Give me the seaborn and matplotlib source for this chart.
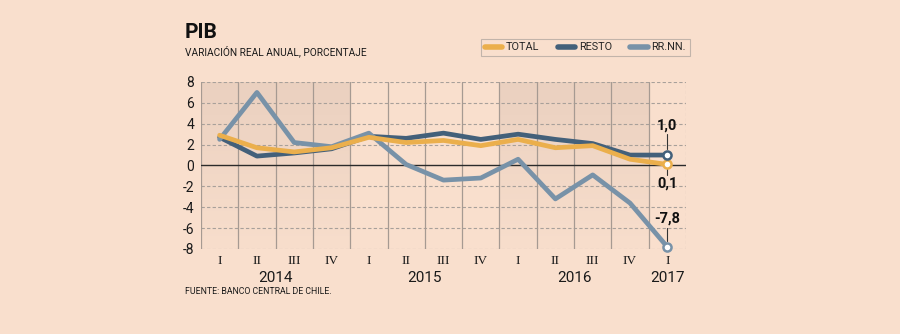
import numpy as np
import pandas as pd
import matplotlib
matplotlib.use("Agg")
import matplotlib.pyplot as plt
from matplotlib.lines import Line2D
import seaborn as sns

# Quarterly GDP growth, 2014-I .. 2017-I
quarters = ["I", "II", "III", "IV", "I", "II", "III", "IV", "I", "II", "III", "IV", "I"]
years = ["2014", "2015", "2016", "2017"]
year_centers = [1.5, 5.5, 9.5, 12]
total = [2.9, 1.7, 1.3, 1.7, 2.7, 2.2, 2.4, 1.9, 2.5, 1.7, 1.9, 0.6, 0.1]
resto = [2.7, 0.9, 1.2, 1.6, 2.8, 2.6, 3.1, 2.5, 3.0, 2.5, 2.1, 1.0, 1.0]
rrnn = [2.5, 7.0, 2.2, 1.8, 3.1, 0.1, -1.4, -1.2, 0.6, -3.2, -0.9, -3.6, -7.8]
series_names = ["TOTAL", "RESTO", "RR.NN."]
yticks = [-8, -6, -4, -2, 0, 2, 4, 6, 8]

BG = "#F9DFCD"
colors = {"TOTAL": "#EBAF4C", "RESTO": "#43607A", "RR.NN.": "#7892A8"}

sns.set_theme(style="white")
plt.rcParams["font.family"] = ["Roboto", "DejaVu Sans"]

n = len(quarters)
df = pd.DataFrame({
    "x": list(range(n)) * 3,
    "valor": total + resto + rrnn,
    "serie": [s for s in series_names for _ in range(n)],
})

fig = plt.figure(figsize=(9, 3.34), dpi=100, facecolor=BG)
ax = fig.add_axes([0.2233, 0.2545, 0.5389, 0.5])
ax.set_facecolor(BG)
for s in ax.spines.values():
    s.set_visible(False)

# shaded blocks for 2014 and 2016 (vertical gradient, darker toward the bottom)
grad = np.zeros((100, 1, 4))
grad[..., :3] = np.array([0.84, 0.74, 0.68])
grad[:, 0, 3] = np.linspace(0.03, 0.42, 100)
for x0, x1 in [(-0.5, 3.5), (7.5, 11.5)]:
    ax.imshow(grad, extent=[x0, x1, 8, -8], aspect="auto", origin="upper",
              zorder=0.5, interpolation="bilinear")
ax.set_xlim(-0.5, n - 0.5)
ax.set_ylim(-8, 8)

# grid
for y in yticks:
    if y == 0:
        ax.axhline(0, color="#2b2b2b", lw=1.0, zorder=2)
    else:
        ax.axhline(y, color="#a8a09a", lw=0.8, ls=(0, (3, 2)), zorder=1)
for k in range(n + 1):
    xv = k - 0.5
    if k == n:
        ax.axvline(xv, color="#a8a09a", lw=0.8, ls=(0, (3, 2)), zorder=1)
    else:
        ax.axvline(xv, color="#a69a92", lw=0.9, zorder=1)

# lines
zorders = {"RESTO": 3, "RR.NN.": 4, "TOTAL": 5}
for name in ["RESTO", "RR.NN.", "TOTAL"]:
    sub = df[df["serie"] == name]
    sns.lineplot(data=sub, x="x", y="valor", color=colors[name], lw=3.4,
                 ax=ax, zorder=zorders[name], legend=False,
                 solid_capstyle="round", solid_joinstyle="round")

# end markers, leader lines and value labels
last = {"TOTAL": total[-1], "RESTO": resto[-1], "RR.NN.": rrnn[-1]}
xl = n - 1
ax.plot([xl, xl], [last["RESTO"] + 0.6, last["RESTO"] + 2.0], color="#333333", lw=0.8, zorder=2)
ax.plot([xl, xl], [last["TOTAL"] - 0.4, last["TOTAL"] - 1.0], color="#333333", lw=0.8, zorder=2)
ax.plot([xl, xl], [last["RR.NN."] + 0.6, last["RR.NN."] + 1.8], color="#333333", lw=0.8, zorder=2)
for name in series_names:
    ax.scatter([xl], [last[name]], s=34, facecolor="white", edgecolor=colors[name],
               linewidth=1.8, zorder=7, clip_on=False)


def fmt(v):
    return f"{v:.1f}".replace(".", ",")


lab_kw = dict(ha="center", fontsize=10.5, fontweight="bold", color="#111111")
ax.text(xl, last["RESTO"] + 2.2, fmt(last["RESTO"]), va="bottom", **lab_kw)
ax.text(xl, last["TOTAL"] - 1.2, fmt(last["TOTAL"]), va="top", **lab_kw)
ax.text(xl, last["RR.NN."] + 2.0, fmt(last["RR.NN."]), va="bottom", **lab_kw)

# axes ticks
ax.set_yticks(yticks)
ax.set_yticklabels([str(v) for v in yticks], fontsize=10, color="#1a1a1a")
ax.set_xticks(range(n))
ax.set_xticklabels(quarters, fontsize=9.5, family="Liberation Serif", color="#1a1a1a")
ax.tick_params(axis="y", length=0, pad=5)
ax.tick_params(axis="x", length=0, pad=4)
ax.set_xlabel("")
ax.set_ylabel("")
for xc, yr in zip(year_centers, years):
    ax.text(xc, -10.8, yr, ha="center", va="center", fontsize=11, color="#1a1a1a",
            clip_on=False)

# titles and source
fig.text(185 / 900, 1 - 33 / 334, "PIB", fontsize=15, fontweight="bold", color="#111111",
         va="center", ha="left")
fig.text(185 / 900, 1 - 51 / 334, "VARIACIÓN REAL ANUAL, PORCENTAJE", fontsize=7.3,
         color="#1a1a1a", va="center", ha="left")
fig.text(185 / 900, 1 - 292 / 334, "FUENTE: BANCO CENTRAL DE CHILE.", fontsize=6.3,
         color="#1a1a1a", va="center", ha="left")

# legend
handles = [Line2D([0], [0], color=colors[s], lw=4, solid_capstyle="round") for s in series_names]
leg = fig.legend(handles, series_names, loc="center", ncol=3,
                 bbox_to_anchor=(585.5 / 900, 1 - 47.5 / 334), frameon=True,
                 fontsize=7.8, handlelength=1.6, handletextpad=0.35, columnspacing=1.7,
                 borderpad=0.35, fancybox=False)
leg.get_frame().set_facecolor(BG)
leg.get_frame().set_edgecolor("#b5aaa2")
leg.get_frame().set_linewidth(0.8)

fig.savefig("out.png", dpi=100, facecolor=BG)
